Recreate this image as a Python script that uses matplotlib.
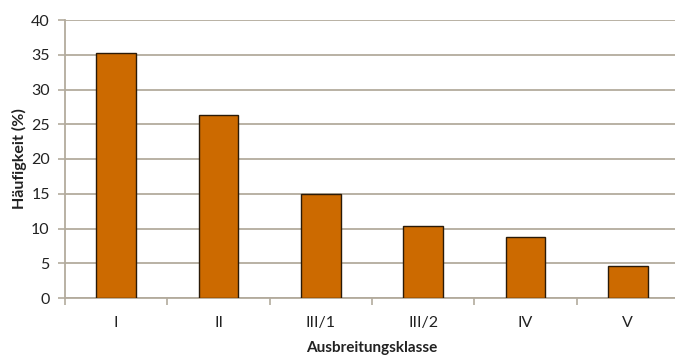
import matplotlib
matplotlib.use("Agg")
import matplotlib.pyplot as plt
import numpy as np

categories = ["I", "II", "III/1", "III/2", "IV", "V"]
values = [35.2, 26.4, 15.0, 10.3, 8.8, 4.6]
y_ticks = [0, 5, 10, 15, 20, 25, 30, 35, 40]

plt.rcParams["font.family"] = ["Lato", "DejaVu Sans"]

fig = plt.figure(figsize=(6.75, 3.55), dpi=100)
ax = fig.add_axes([65 / 675, 57 / 355, 614 / 675, 278 / 355])

grid_col = "#b3ab9d"
x = np.arange(len(categories))
ax.bar(x, values, width=0.39, color="#cc6a00", edgecolor="#2a1a08",
       linewidth=1.0, zorder=3)

ax.set_xlim(-0.5, len(categories) - 0.5)
ax.set_ylim(0, 40)
ax.set_yticks(y_ticks)
ax.yaxis.grid(True, color=grid_col, linewidth=1.3, zorder=0)
ax.set_axisbelow(True)

ax.set_xticks(x)
ax.set_xticklabels(categories)
ax.set_xticks(np.arange(len(categories) + 1) - 0.5, minor=True)
ax.tick_params(axis="x", which="major", length=0, pad=13, labelsize=11.5,
               labelcolor="#222222")
ax.tick_params(axis="x", which="minor", length=5, width=1.2, color=grid_col,
               direction="out")
ax.tick_params(axis="y", length=5, width=1.2, color=grid_col, pad=6,
               labelsize=11.5, labelcolor="#222222")

for s in ["top", "right"]:
    ax.spines[s].set_visible(False)
for s in ["left", "bottom"]:
    ax.spines[s].set_color(grid_col)
    ax.spines[s].set_linewidth(1.3)

ax.set_ylabel("Häufigkeit (%)", fontsize=11.5, fontweight="bold",
              color="#222222", labelpad=3)
ax.set_xlabel("Ausbreitungsklasse", fontsize=11, fontweight="bold",
              color="#222222", labelpad=8)

fig.savefig("out.png", dpi=100)
